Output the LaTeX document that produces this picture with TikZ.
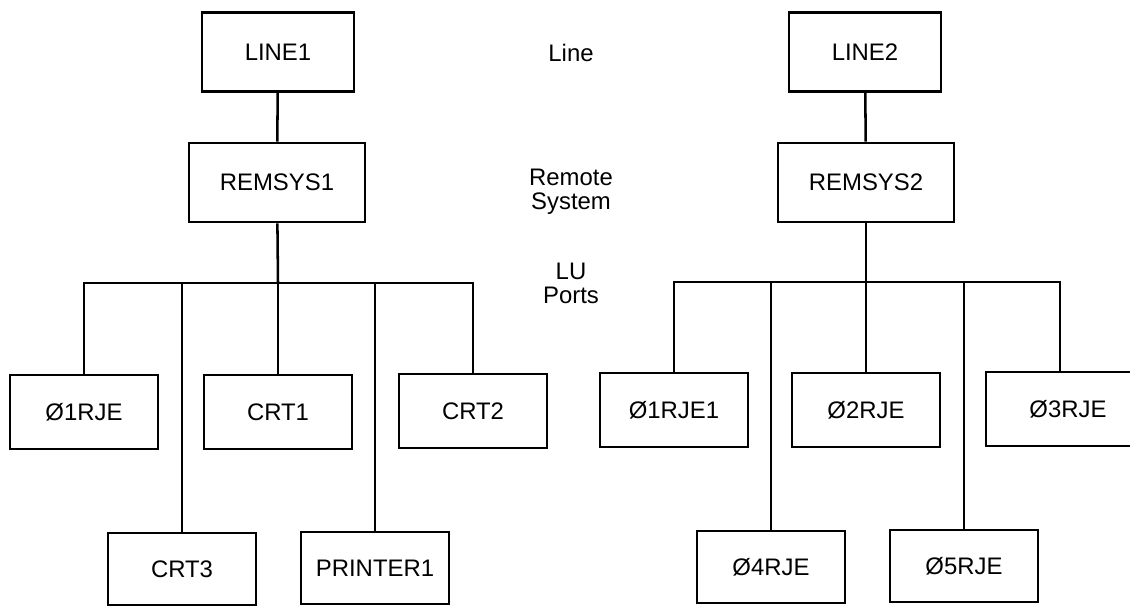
\documentclass[tikz,border=0pt]{standalone}
\usepackage{fontspec}
\setmainfont{Liberation Sans}
\newcommand{\boxfont}{\fontsize{17}{19}\selectfont}
\newcommand{\levelfont}{\fontsize{17}{17}\selectfont}

\begin{document}
\begin{tikzpicture}[x=0.025cm, y=-0.025cm, line width=1.8pt,
    unit/.style={draw, minimum width=3.7cm, minimum height=1.85cm, inner sep=2pt, font=\boxfont},
    linebox/.style={unit, minimum width=3.8cm, minimum height=1.975cm},
    sysbox/.style={unit, minimum width=4.4cm, minimum height=1.975cm},
    lowbox/.style={unit, minimum height=1.8cm},
    level/.style={align=center, font=\levelfont}]
  \useasboundingbox (0,0) rectangle (1130,605);
  % left tree
  \node[linebox] (line1)   at (278,52)    {LINE1};
  \node[sysbox]  (remsys1) at (277,182.5) {REMSYS1};
  \coordinate (bus1) at (278,283);
  \node[unit]   (rje1)  at (84,412)  {Ø1RJE};
  \node[unit]   (crt1)  at (278,412) {CRT1};
  \node[unit]   (crt2)  at (473,411) {CRT2};
  \node[lowbox] (crt3)  at (182,569) {CRT3};
  \node[lowbox] (prt1)  at (375,568) {PRINTER1};
  % right tree
  \node[linebox] (line2)   at (865,52)    {LINE2};
  \node[sysbox]  (remsys2) at (866,182.5) {REMSYS2};
  \coordinate (bus2) at (866,282);
  \node[unit]   (rje11) at (674,410) {Ø1RJE1};
  \node[unit]   (rje2)  at (866,410) {Ø2RJE};
  \node[unit, minimum width=4.1cm] (rje3) at (1068,409) {Ø3RJE};
  \node[lowbox] (rje4)  at (771,567) {Ø4RJE};
  \node[lowbox] (rje5)  at (964,566) {Ø5RJE};
  % level names in the middle
  \node[level] (lvline) at (571,53)  {Line};
  \node[level] (lvsys)  at (571,192) {Remote\\System};
  \node[level] (lvport) at (571,283) {LU\\Ports};
  % connections
  \draw (line1) -- (remsys1);
  \draw (remsys1) -- (bus1);
  \foreach \n in {rje1,crt1,crt2,crt3,prt1}
    \draw (\n.north) |- (bus1);
  \draw (line2) -- (remsys2);
  \draw (remsys2) -- (bus2);
  \draw (rje3.north -| 1060,0) |- (bus2);
  \foreach \n in {rje11,rje2,rje4,rje5}
    \draw (\n.north) |- (bus2);
\end{tikzpicture}
\end{document}
